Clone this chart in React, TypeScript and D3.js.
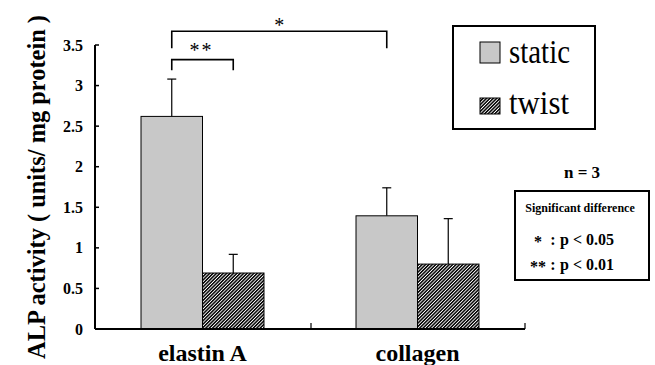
import React from 'react';
import * as d3 from 'd3';

const categories = ['elastin A', 'collagen'];
const seriesNames = ['static', 'twist'];
const staticMeans = [2.62, 1.395];
const staticErr = [0.46, 0.345];
const twistMeans = [0.69, 0.8];
const twistErr = [0.23, 0.56];
const yTicks = [0, 0.5, 1, 1.5, 2, 2.5, 3, 3.5];
const yLabel = 'ALP activity ( units/ mg protein )';

const width = 655;
const height = 365;
const serif = "'Liberation Serif'";

const App: React.FC = () => {
  const x = d3.scaleBand<string>().domain(categories).range([95, 525]).paddingInner(0.428).paddingOuter(0.214);
  const xs = d3.scaleBand<string>().domain(seriesNames).range([0, x.bandwidth()]);
  const y = d3.scaleLinear().domain([0, 3.5]).range([329, 45]);

  const bars = categories.flatMap((c, i) => [
    { cat: c, s: 'static', v: staticMeans[i], e: staticErr[i] },
    { cat: c, s: 'twist', v: twistMeans[i], e: twistErr[i] },
  ]);
  const cx = (c: string, s: string) => (x(c) || 0) + (xs(s) || 0) + xs.bandwidth() / 2;

  // significance brackets
  const brackets = [
    { a: cx('elastin A', 'static'), b: cx('elastin A', 'twist'), top: 3.32, leg: 3.19, label: '**', ty: 57 },
    { a: cx('elastin A', 'static'), b: cx('collagen', 'static'), top: 3.67, leg: 3.46, label: '*', ty: 32 },
  ];
  const ff = { fontFamily: serif };

  return (
    <svg width={width} height={height} style={{ position: 'absolute', left: 0, top: 0 }}>
      <style>{`text { font-family: 'Liberation Serif', serif !important; }`}</style>
      <defs>
        <pattern id="hatch" patternUnits="userSpaceOnUse" width="2.4" height="2.4" patternTransform="rotate(45)">
          <rect width="2.4" height="2.4" fill="#fff" />
          <line x1="0.7" y1="0" x2="0.7" y2="2.4" stroke="#000" strokeWidth="1.6" />
        </pattern>
      </defs>
      <rect width={width} height={height} fill="#fff" />

      {/* bars */}
      {bars.map((d) => {
        const bx = (x(d.cat) || 0) + (xs(d.s) || 0);
        const mx = bx + xs.bandwidth() / 2;
        return (
          <g key={d.cat + d.s}>
            <line x1={mx} x2={mx} y1={y(d.v)} y2={y(d.v + d.e)} stroke="#000" strokeWidth={1.2} />
            <line x1={mx - 4.5} x2={mx + 4.5} y1={y(d.v + d.e)} y2={y(d.v + d.e)} stroke="#000" strokeWidth={1.2} />
            <rect x={bx} y={y(d.v)} width={xs.bandwidth()} height={y(0) - y(d.v)}
              fill={d.s === 'static' ? '#c8c8c8' : 'url(#hatch)'} stroke="#000" strokeWidth={1} />
          </g>
        );
      })}

      {/* axes */}
      <line x1={95} x2={95} y1={y(3.5)} y2={y(0)} stroke="#000" strokeWidth={2} />
      <line x1={95} x2={525} y1={y(0)} y2={y(0)} stroke="#000" strokeWidth={2} />
      {yTicks.map((t) => (
        <g key={t}>
          <line x1={95} x2={99} y1={y(t)} y2={y(t)} stroke="#000" strokeWidth={1.5} />
          <text style={ff} x={83} y={y(t)} dy="0.35em" textAnchor="end" fontSize={16} fontWeight="bold">{t}</text>
        </g>
      ))}
      {[311, 525].map((t) => (
        <line key={t} x1={t} x2={t} y1={y(0)} y2={y(0) - 6} stroke="#000" strokeWidth={1.2} />
      ))}
      {categories.map((c) => (
        <text style={ff} key={c} x={(x(c) || 0) + x.bandwidth() / 2} y={361} textAnchor="middle" fontSize={24} fontWeight="bold">{c}</text>
      ))}
      <text style={ff} transform={`translate(45,187) rotate(-90)`} textAnchor="middle" fontSize={25} fontWeight="bold"
        textLength={344} lengthAdjust="spacingAndGlyphs">{yLabel}</text>

      {/* brackets */}
      {brackets.map((b) => (
        <g key={b.label}>
          <path d={`M${b.a},${y(b.leg)}V${y(b.top)}H${b.b}V${y(b.leg)}`} fill="none" stroke="#000" strokeWidth={1.6} />
          <text style={ff} x={(b.a + b.b) / 2 - (b.label === '*' ? 0 : 1)} y={b.ty} textAnchor="middle" fontSize={20}
            letterSpacing={b.label === '*' ? 0 : 2}>{b.label}</text>
        </g>
      ))}

      {/* legend */}
      <rect x={453} y={26} width={142} height={103} fill="#fff" stroke="#000" strokeWidth={2} />
      <rect x={480} y={42} width={20} height={21} fill="#c8c8c8" stroke="#000" strokeWidth={1} />
      <text style={ff} x={509} y={63} fontSize={34} textLength={61} lengthAdjust="spacingAndGlyphs">{seriesNames[0]}</text>
      <rect x={480} y={98} width={20} height={16} fill="url(#hatch)" stroke="#000" strokeWidth={1} />
      <text style={ff} x={509} y={114} fontSize={34} textLength={60} lengthAdjust="spacingAndGlyphs">{seriesNames[1]}</text>

      <text style={ff} x={582} y={178} textAnchor="middle" fontSize={17} fontWeight="bold">n = 3</text>

      <rect x={515} y={191} width={134} height={89} fill="#fff" stroke="#000" strokeWidth={2} />
      <text style={ff} x={580} y={212} textAnchor="middle" fontSize={12} fontWeight="bold">Significant difference</text>
      <text style={ff} x={538} y={247} textAnchor="middle" fontSize={16} fontWeight="bold">*</text>
      <text style={ff} x={553} y={245} textAnchor="middle" fontSize={16} fontWeight="bold">:</text>
      <text style={ff} x={560} y={245} fontSize={16} fontWeight="bold">p &lt; 0.05</text>
      <text style={ff} x={538} y={272} textAnchor="middle" fontSize={16} fontWeight="bold">**</text>
      <text style={ff} x={553} y={270} textAnchor="middle" fontSize={16} fontWeight="bold">:</text>
      <text style={ff} x={560} y={270} fontSize={16} fontWeight="bold">p &lt; 0.01</text>
    </svg>
  );
};

export default App;
